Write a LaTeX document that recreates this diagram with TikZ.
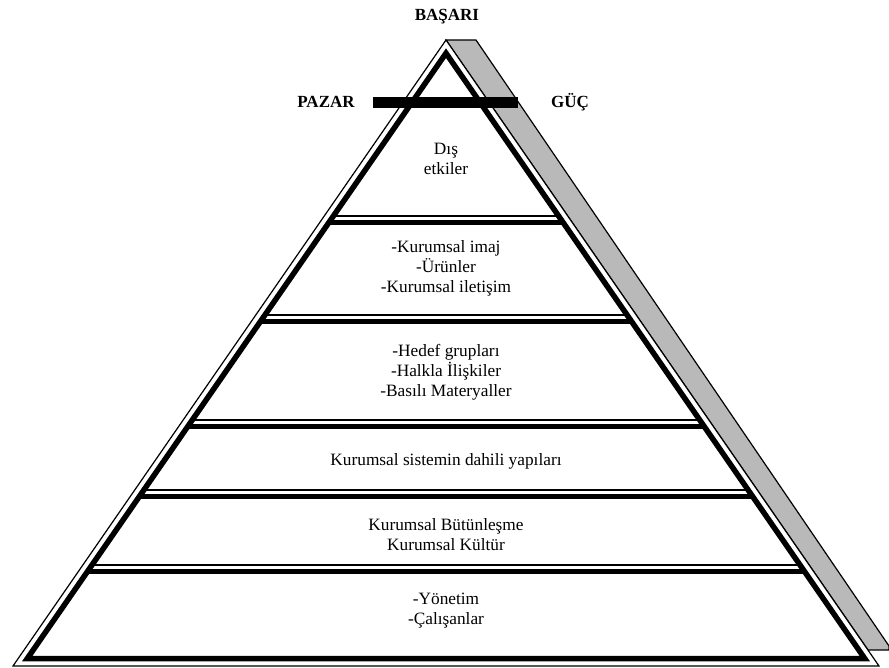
\documentclass[tikz,border=0pt]{standalone}
\usepackage{fontspec}
\setmainfont{Liberation Serif}
\begin{document}
\begin{tikzpicture}[x=1pt,y=-1pt]

    % Stili
    \tikzset{
        thinline/.style={line width=1.2pt},
        thickline/.style={line width=5.5pt, line join=miter},
        bandtext/.style={align=center, inner sep=0pt, font=\fontsize{17.3}{20}\selectfont},
        sidelabel/.style={inner sep=0pt, font=\fontsize{17}{20}\selectfont\bfseries}
    }

    \useasboundingbox (0,0) rectangle (889,668);

    % Gölge (sağ kenar)
    \draw[thinline, fill=gray!55] (446,40) -- (476,40) -- (889,646) -- (889,650) -- (868,650) -- cycle;

    % Dış üçgen
    \draw[thinline, fill=white] (446,40) -- (13,666) -- (879,666) -- cycle;

    % Bant ayırıcıları (ince + kalın)
    \begin{scope}
        \clip (446,53.2) -- (27.3,658.5) -- (864.7,658.5) -- cycle;
        \foreach \y in {216,315,420,490,565} {
            \draw[thinline] (0,\y) -- (889,\y);
            \draw[thickline] (0,\y+6.5) -- (889,\y+6.5);
        }
    \end{scope}

    % İç üçgen
    \draw[thickline] (446,53.2) -- (27.3,658.5) -- (864.7,658.5) -- cycle;

    % Pazar - Güç çubuğu
    \fill (373,97) rectangle (518,108);

    % Üst etiketler
    \node[sidelabel] (basari) at (447,17) {BAŞARI};
    \node[sidelabel] (pazar) at (326,102) {PAZAR};
    \node[sidelabel] (guc) at (570,102) {GÜÇ};

    % Bant metinleri
    \node[bandtext] (dis) at (446,159) {Dış\\etkiler};
    \node[bandtext] (imaj) at (446,268) {-Kurumsal imaj\\-Ürünler\\-Kurumsal iletişim};
    \node[bandtext] (hedef) at (446,372) {-Hedef grupları\\-Halkla İlişkiler\\-Basılı Materyaller};
    \node[bandtext] (sistem) at (446,461) {Kurumsal sistemin dahili yapıları};
    \node[bandtext] (kultur) at (446,535) {Kurumsal Bütünleşme\\Kurumsal Kültür};
    \node[bandtext] (yonetim) at (446,611) {-Yönetim\\-Çalışanlar};

\end{tikzpicture}
\end{document}
